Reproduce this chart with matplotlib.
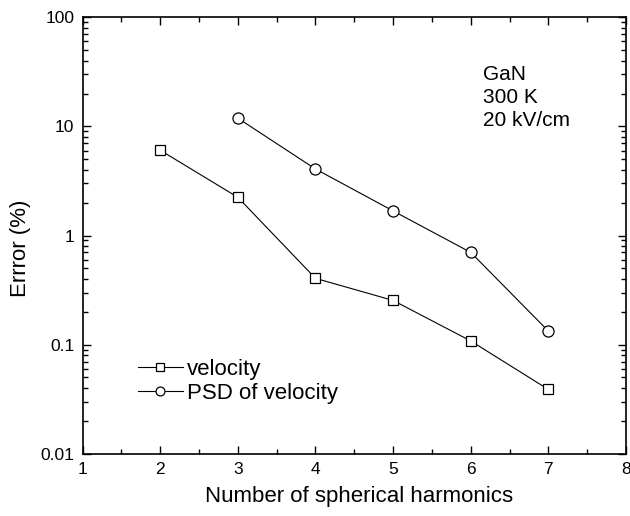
import matplotlib
matplotlib.use("Agg")
import matplotlib.pyplot as plt
from matplotlib.ticker import LogLocator, NullFormatter, MultipleLocator

plt.rcParams['font.family'] = ['Liberation Sans', 'DejaVu Sans']

n_vel = [2, 3, 4, 5, 6, 7]
err_vel = [6.05, 2.24, 0.405, 0.254, 0.108, 0.0388]
n_psd = [3, 4, 5, 6, 7]
err_psd = [11.9, 4.07, 1.68, 0.70, 0.133]
xticks = [1, 2, 3, 4, 5, 6, 7, 8]
yticks = [0.01, 0.1, 1, 10, 100]
ylabels = ["0.01", "0.1", "1", "10", "100"]

fig = plt.figure(figsize=(6.3, 5.16), dpi=100)
ax = fig.add_axes([0.131, 0.1207, 0.8627, 0.8458])

ax.plot(n_vel, err_vel, color='black', lw=0.8, marker='s', ms=7, mfc='white', mec='black', mew=0.9,
        label='velocity')
ax.plot(n_psd, err_psd, color='black', lw=0.8, marker='o', ms=8, mfc='white', mec='black', mew=0.9,
        label='PSD of velocity')

ax.set_yscale('log')
ax.set_xlim(1, 8)
ax.set_ylim(0.01, 100)
ax.set_xticks(xticks)
ax.xaxis.set_minor_locator(MultipleLocator(0.5))
ax.set_yticks(yticks)
ax.set_yticklabels(ylabels)
ax.yaxis.set_minor_locator(LogLocator(base=10, subs=range(2, 10), numticks=20))
ax.yaxis.set_minor_formatter(NullFormatter())

ax.tick_params(which='both', direction='in', top=True, right=True, labelsize=12.5, width=1.0)
ax.tick_params(which='major', length=6, pad=6)
ax.tick_params(which='minor', length=3.5)
for s in ax.spines.values():
    s.set_linewidth(1.2)

ax.set_xlabel('Number of spherical harmonics', fontsize=16, labelpad=9)
ax.xaxis.set_label_coords(0.508, -0.075)
ax.set_ylabel('Errror (%)', fontsize=16, labelpad=5)
ax.yaxis.set_label_coords(-0.095, 0.47)

ax.text(0.737, 0.89, 'GaN\n300 K\n20 kV/cm', transform=ax.transAxes, fontsize=15,
        va='top', ha='left', linespacing=1.25)

ax.legend(loc='lower left', bbox_to_anchor=(0.086, 0.094), frameon=False, fontsize=16,
          handlelength=2.0, handletextpad=0.2, labelspacing=0.12, borderaxespad=0,
          markerscale=0.8)

fig.savefig('out.png', dpi=100)
